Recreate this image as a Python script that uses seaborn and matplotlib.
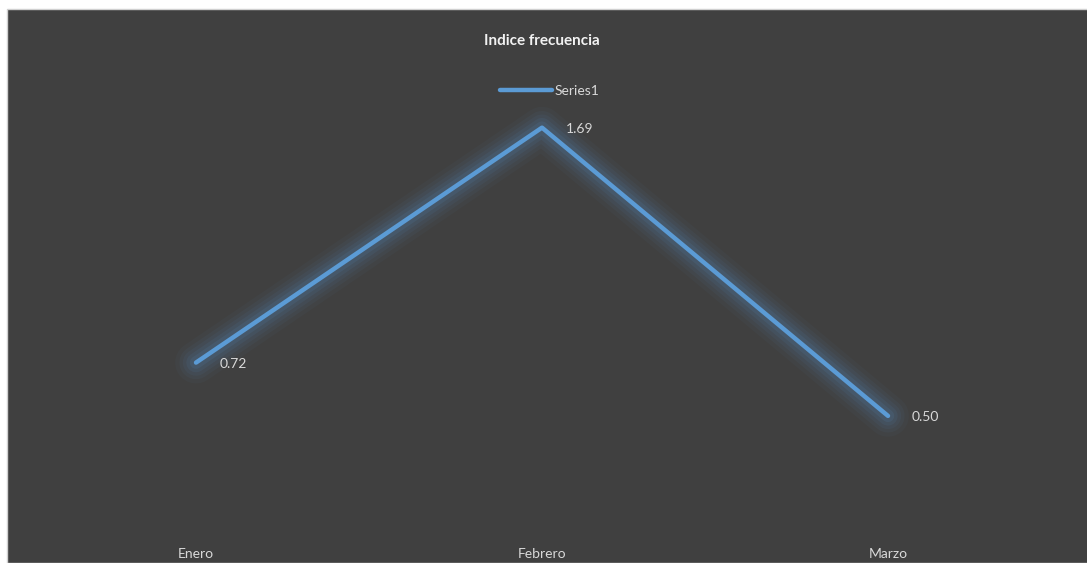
import numpy as np
import pandas as pd
import seaborn as sns
import matplotlib.pyplot as plt
from matplotlib.patches import Rectangle

# data
meses = ['Enero', 'Febrero', 'Marzo']
indice = [0.72, 1.69, 0.50]
serie = 'Series1'

sns.set_theme(style='white')
plt.rcParams['font.family'] = ['Lato', 'DejaVu Sans']

W, H = 1087, 563
fig = plt.figure(figsize=(W / 100, H / 100), dpi=100)
fig.patch.set_facecolor('white')

# dark chart area with thin light border
fig.add_artist(Rectangle((7 / W, 0), 1, (H - 9) / H, transform=fig.transFigure,
                         facecolor='#404040', edgecolor='#D0D0D0', linewidth=1, zorder=0))

ax = fig.add_axes([23 / W, (H - 537) / H, (1061 - 23) / W, (537 - 101) / H])
ax.set_facecolor('none')

df = pd.DataFrame({'mes': meses, 'valor': indice})
line_color = '#5B9BD5'

# soft glow behind the line
for lw, a in [(30, 0.04), (24, 0.05), (19, 0.06), (14, 0.08), (9, 0.10)]:
    ax.plot(range(len(meses)), df['valor'], color=line_color, lw=lw, alpha=a,
            solid_capstyle='round', solid_joinstyle='round', zorder=1)

sns.lineplot(data=df, x='mes', y='valor', ax=ax, color=line_color, lw=3.2,
             sort=False, label=serie, zorder=3)
ax.lines[-1].set_solid_capstyle('round')

ax.set_xlim(-0.5, 2.5)
ax.set_ylim(0, 1.8)
ax.set_xlabel('')
ax.set_ylabel('')
ax.set_yticks([])
ax.tick_params(axis='x', length=0, pad=8, colors='#D9D9D9', labelsize=10)
for s in ax.spines.values():
    s.set_visible(False)

for i, v in enumerate(indice):
    ax.annotate(f'{v:.2f}', (i, v), xytext=(17, -1), textcoords='offset points',
                ha='left', va='center', color='#D9D9D9', fontsize=10)

leg = ax.legend(loc='center left', bbox_to_anchor=(487 / W, (H - 91) / H),
                bbox_transform=fig.transFigure, frameon=False, fontsize=10,
                handlelength=3.8, handletextpad=0.15, labelcolor='#D9D9D9')
leg.get_lines()[0].set_linewidth(3.2)

fig.text(542 / W, (H - 41) / H, 'Indice frecuencia', ha='center', va='center',
         color='#F2F2F2', fontsize=11, fontweight='bold')

fig.savefig('out.png', dpi=100, facecolor=fig.get_facecolor())
